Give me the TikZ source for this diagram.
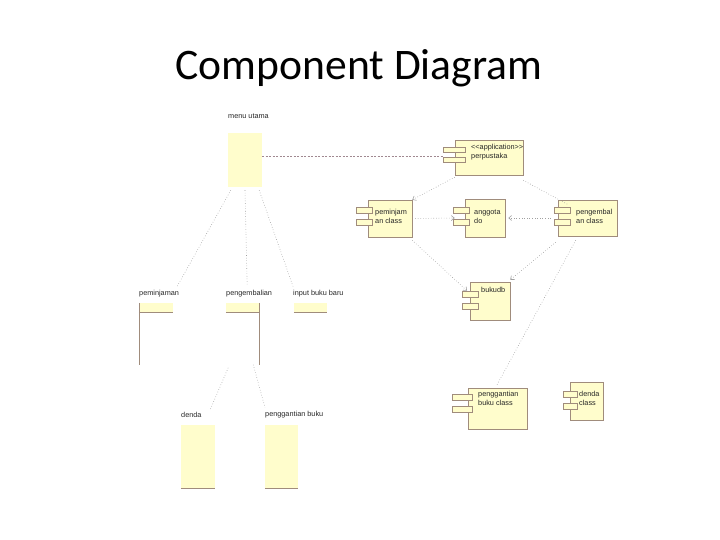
\documentclass[tikz,border=0pt]{standalone}
\usepackage{fontspec}
\setmainfont{Carlito}
\newfontfamily\lblfont{Liberation Sans}
\usetikzlibrary{arrows.meta}
\definecolor{cfill}{HTML}{FFFDCC}
\definecolor{cline}{HTML}{A08C7C}
\definecolor{dep}{HTML}{A0A0A0}
\definecolor{link}{HTML}{A08890}
\tikzset{
  lbl/.style={font=\lblfont\fontsize{7.3}{8.5}\selectfont, text=black!85, inner sep=0pt, anchor=west, align=left},
  fillbox/.style={fill=cfill, draw=none, inner sep=0pt},
  compbox/.style={fill=cfill, draw=cline, line width=0.5pt, inner sep=0pt},
  stub/.style={fill=cfill, draw=cline, line width=0.5pt},
  edge/.style={draw=cline, line width=0.6pt},
  depline/.style={draw=dep, line width=0.6pt, dotted},
  deparrow/.style={depline, -{Straight Barb[length=3pt,width=5pt]}},
}
\begin{document}
\begin{tikzpicture}[x=1pt,y=-1pt]
\useasboundingbox (0,0) rectangle (720,540);

% title
\node[font=\fontsize{43.6}{50}\selectfont, inner sep=0pt] (title) at (359,68) {Component Diagram};

% ---------- left side ----------
\node[lbl] (menulbl) at (228,116) {menu utama};
\node[fillbox, minimum width=34, minimum height=54] (menu) at (245,160) {};

\node[lbl] (pmjlbl) at (139,294) {peminjaman};
\node[fillbox, minimum width=34, minimum height=9] (pmj) at (156,307.5) {};
\draw[edge] (pmj.south west) -- (pmj.south east);
\draw[edge] (pmj.north west) -- ++(0,62);

\node[lbl] (pgblbl) at (226,294) {pengembalian};
\node[fillbox, minimum width=33, minimum height=9] (pgb) at (242.5,307.5) {};
\draw[edge] (pgb.south west) -- (pgb.south east);
\draw[edge] (pgb.north east) -- ++(0,62) coordinate (pgbend);

\node[lbl] (inplbl) at (293,294) {input buku baru};
\node[fillbox, minimum width=33, minimum height=9] (inp) at (310.5,307.5) {};
\draw[edge] (inp.south west) -- (inp.south east);

\node[lbl] (dndlbl) at (181,415) {denda};
\node[fillbox, minimum width=34, minimum height=63] (dnd) at (198,456.5) {};
\draw[edge] (dnd.south west) -- (dnd.south east);

\node[lbl] (pgtlbl) at (265,415) {penggantian buku};
\node[fillbox, minimum width=33, minimum height=63] (pgt) at (281.5,456.5) {};
\draw[edge] (pgt.south west) -- (pgt.south east);

% ---------- right side components ----------
% application
\node[compbox, minimum width=68, minimum height=35] (app) at (489,157.5) {};
\node[stub, minimum width=22, minimum height=5, inner sep=0pt] (apps1) at (454,149.5) {};
\node[stub, minimum width=22, minimum height=5, inner sep=0pt] (apps2) at (454,160) {};
\node[lbl] (applbl) at (471,152) {<<application>>\\perpustaka};

% peminjam an class
\node[compbox, minimum width=44, minimum height=37] (pcl) at (390,218.5) {};
\node[stub, minimum width=16, minimum height=6, inner sep=0pt] (pcls1) at (364,210) {};
\node[stub, minimum width=16, minimum height=6, inner sep=0pt] (pcls2) at (364,222) {};
\node[lbl] (pcllbl) at (375,216.5) {peminjam\\an class};

% anggota do
\node[compbox, minimum width=40, minimum height=38] (agt) at (485,218) {};
\node[stub, minimum width=16, minimum height=6, inner sep=0pt] (agts1) at (461,210) {};
\node[stub, minimum width=16, minimum height=6, inner sep=0pt] (agts2) at (461,222) {};
\node[lbl] (agtlbl) at (474,216.5) {anggota\\do};

% pengembal an class
\node[compbox, minimum width=59, minimum height=36] (kcl) at (587.5,218) {};
\node[stub, minimum width=16, minimum height=6, inner sep=0pt] (kcls1) at (562,210) {};
\node[stub, minimum width=16, minimum height=6, inner sep=0pt] (kcls2) at (562,222) {};
\node[lbl] (kcllbl) at (576,216.5) {pengembal\\an class};

% bukudb
\node[compbox, minimum width=40, minimum height=38] (bdb) at (490,301) {};
\node[stub, minimum width=16, minimum height=6, inner sep=0pt] (bdbs1) at (470,294) {};
\node[stub, minimum width=16, minimum height=6, inner sep=0pt] (bdbs2) at (470,306) {};
\node[lbl] (bdblbl) at (481,290) {bukudb};

% penggantian class
\node[compbox, minimum width=59, minimum height=41] (gcl) at (497.5,408.5) {};
\node[stub, minimum width=20, minimum height=6, inner sep=0pt] (gcls1) at (462,397) {};
\node[stub, minimum width=20, minimum height=6, inner sep=0pt] (gcls2) at (462,409) {};
\node[lbl] (gcllbl) at (478,398.5) {penggantian\\buku class};

% denda class
\node[compbox, minimum width=33, minimum height=38] (dcl) at (586.5,401) {};
\node[stub, minimum width=14, minimum height=6, inner sep=0pt] (dcls1) at (570,394) {};
\node[stub, minimum width=14, minimum height=6, inner sep=0pt] (dcls2) at (570,406) {};
\node[lbl] (dcllbl) at (579,398.5) {denda\\class};

% ---------- connectors ----------
\draw[draw=link, line width=0.6pt, dashed, dash pattern=on 2pt off 1.5pt]
  ([yshift=4pt]menu.east) coordinate (ma) -- (ma -| apps1.west);

\draw[depline] ([xshift=3pt,yshift=-3pt]menu.south west) -- ([xshift=-2pt,yshift=4pt]pmjlbl.north east);
\draw[depline] ([yshift=-3pt]menu.south) -- ([xshift=-2pt,yshift=6pt]pgblbl.north);
\draw[depline] ([xshift=-3pt,yshift=-3pt]menu.south east) -- ([yshift=4pt]inplbl.north west);
\draw[depline] ([xshift=-31pt,yshift=-3pt]pgbend) -- ([xshift=29pt,yshift=2pt]dndlbl.north west);
\draw[depline] ([xshift=-6pt]pgbend) -- ([yshift=4pt]pgtlbl.north west);

\draw[deparrow] ([yshift=-2pt]app.south west) -- (pcl.north east);
\draw[depline] ([yshift=-5pt]app.south east) -- ([xshift=-2pt,yshift=2pt]kcls1.north east);
\draw[deparrow] ([xshift=3pt]pcl.east) -- ([xshift=-10pt]agt.west);
\draw[deparrow] ([xshift=-3pt]kcls1.west |- agt.east) -- ([xshift=3pt]agt.east);
\draw[deparrow] ([yshift=-3pt]pcl.south east) -- ([xshift=-3pt]bdbs1.north);
\draw[deparrow] ([xshift=-2pt,yshift=-6pt]kcl.south west) -- ([yshift=2pt]bdb.north east);
\draw[depline] ([xshift=18pt,yshift=-4pt]kcl.south west) -- ([xshift=-1pt,yshift=2pt]gcl.north);
\end{tikzpicture}
\end{document}
